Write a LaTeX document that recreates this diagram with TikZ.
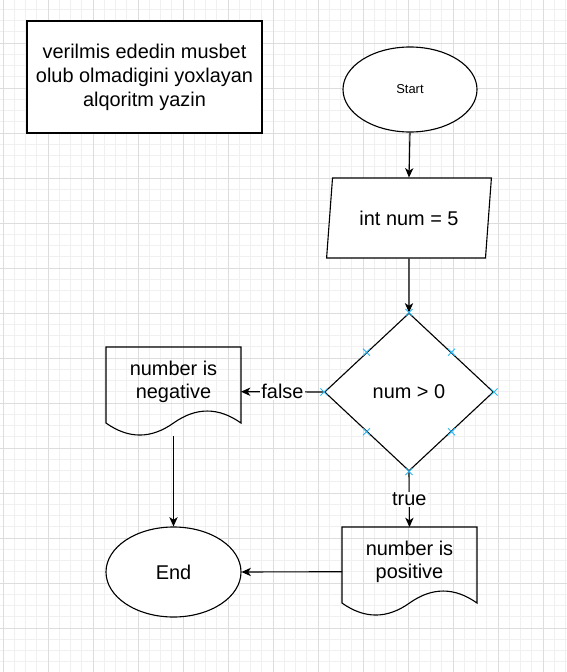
\documentclass[tikz,border=0pt]{standalone}
\usepackage{fontspec}
\setmainfont{Liberation Sans}
\usetikzlibrary{calc, arrows.meta, shapes.geometric}
\definecolor{gridminor}{HTML}{F0F0F0}
\definecolor{gridmajor}{HTML}{DDDDDD}
\definecolor{pointblue}{HTML}{29B6F2}
% outline of a document shape (wavy bottom) round a node
\newcommand{\docoutline}[1]{%
  \draw[line] (#1.north west) -- (#1.north east) -- ([shift={(0,76)}]#1.north east)
    .. controls ([shift={(-22.5,60)}]#1.north east) and ([shift={(-45,60)}]#1.north east) .. ([shift={(67.5,76)}]#1.north west)
    .. controls ([shift={(45,92)}]#1.north west) and ([shift={(22.5,92)}]#1.north west) .. ([shift={(0,76)}]#1.north west) -- cycle;}
% small blue cross of a connection point
\newcommand{\connpoint}[1]{%
  \draw[pointblue, line width=0.8pt] ([shift={(-3.5,-3.5)}]#1) -- ([shift={(3.5,3.5)}]#1)
    ([shift={(-3.5,3.5)}]#1) -- ([shift={(3.5,-3.5)}]#1);}

\begin{document}
\begin{tikzpicture}[x=0.03cm, y=-0.03cm,
    font=\fontsize{17}{20.4}\selectfont,
    line/.style={black, line width=0.95pt},
    flow/.style={line, -{Stealth[length=0.28cm, width=0.25cm, inset=0.08cm]}},
    terminal/.style={ellipse, draw, line, inner sep=0pt},
    docbox/.style={rectangle, outer sep=0pt, inner sep=0pt, minimum width=4.05cm, minimum height=2.68cm, align=center},
    edgelabel/.style={fill=white, inner sep=1pt}]
  \useasboundingbox[fill=white] (0,0) rectangle (567,672);
  % background grid
  \foreach \i in {0,...,50}
    \draw[gridminor, line width=0.5pt] ({3+11.25*\i},0) -- ({3+11.25*\i},672);
  \foreach \j in {0,...,60}
    \draw[gridminor, line width=0.5pt] (0,{-2+11.25*\j}) -- (567,{-2+11.25*\j});
  \foreach \i in {0,...,12}
    \draw[gridmajor, line width=0.5pt] ({3+45*\i},0) -- ({3+45*\i},672);
  \foreach \j in {0,...,15}
    \draw[gridmajor, line width=0.5pt] (0,{-2+45*\j}) -- (567,{-2+45*\j});

  % task text
  \node[draw, line, fill=white, minimum width=7.05cm, minimum height=3.36cm, align=center] (title) at (144.5,77)
    {verilmis ededin musbet\\olub olmadigini yoxlayan\\alqoritm yazin};

  % flowchart shapes
  \node[terminal, fill=white, minimum width=4.02cm, minimum height=2.55cm, font=\fontsize{11}{13}\selectfont] (start) at (410,89.5) {Start};
  \node[trapezium, trapezium left angle=75.3, trapezium right angle=104.7, trapezium stretches=true,
    draw, line, fill=white, minimum width=4.98cm, minimum height=2.4cm, inner sep=0pt] (numin) at (409,218) {int num = 5};
  \node[diamond, draw, line, fill=white, minimum width=5.07cm, minimum height=4.74cm, inner sep=0pt, aspect=1.07] (check) at (409,392) {num > 0};
  \node[docbox] (neg) at (173.5,391.7) {number is\\negative\\\mbox{}};
  \node[docbox] (pos) at (409.5,571.7) {number is\\positive\\\mbox{}};
  \docoutline{neg}
  \docoutline{pos}
  \node[terminal, fill=white, minimum width=4.05cm, minimum height=2.7cm] (stop) at (173.5,572) {End};

  % connectors
  \draw[flow] (start.south) -- (numin.north);
  \draw[flow] (numin.south) -- (check.north);
  \draw[flow] (check.west) -- node[edgelabel] {false} (neg.east);
  \draw[flow] (check.south) -- node[edgelabel] {true} (pos.north);
  \draw[flow] (neg.south) -- (stop.north);
  \draw[flow] (pos.west) -- (stop.east);

  % connection points of the decision
  \coordinate (c-nw) at ($(check.north)!0.5!(check.west)$);
  \coordinate (c-ne) at ($(check.north)!0.5!(check.east)$);
  \coordinate (c-sw) at ($(check.south)!0.5!(check.west)$);
  \coordinate (c-se) at ($(check.south)!0.5!(check.east)$);
  \foreach \p in {check.north, check.south, check.west, check.east, c-nw, c-ne, c-sw, c-se}
    {\connpoint{\p}}
\end{tikzpicture}
\end{document}
